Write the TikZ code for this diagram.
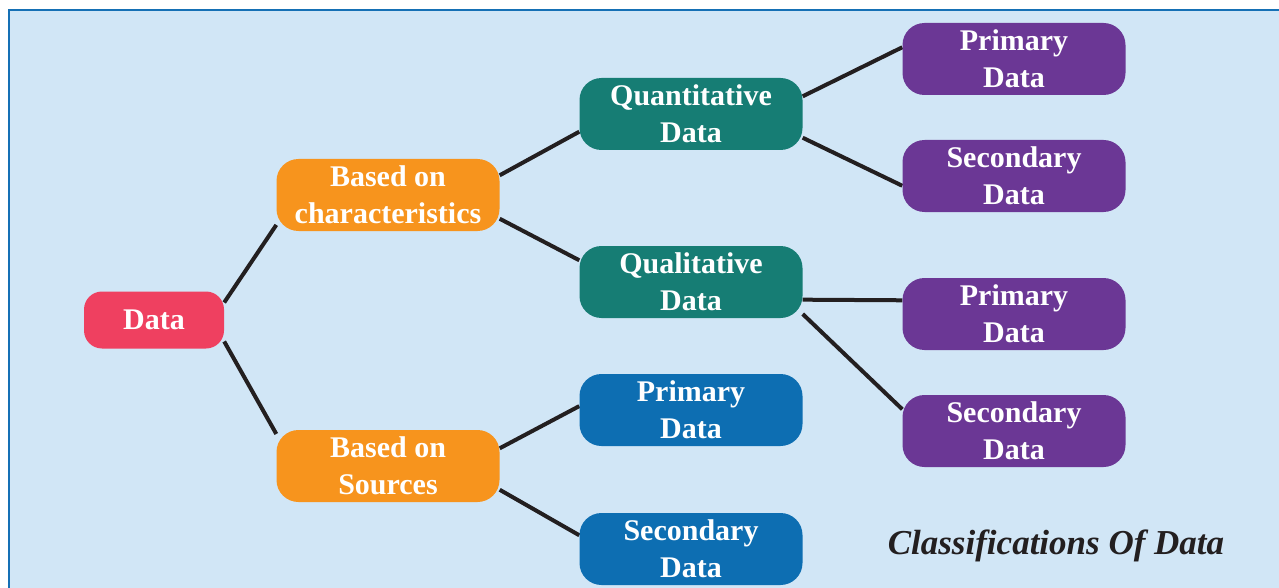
\documentclass[tikz,border=0pt]{standalone}
\usepackage{fontspec}
\setmainfont{Liberation Serif}
\usetikzlibrary{backgrounds}
\definecolor{panelblue}{HTML}{D1E6F6}
\definecolor{frameblue}{HTML}{1570B5}
\definecolor{rootred}{HTML}{EF4060}
\definecolor{basisorange}{HTML}{F7941D}
\definecolor{kindteal}{HTML}{167D74}
\definecolor{sourceblue}{HTML}{0D6EB2}
\definecolor{leafpurple}{HTML}{6B3795}
\definecolor{linkdark}{HTML}{231F20}

\begin{document}
\begin{tikzpicture}[x=1pt, y=-1pt,
    box/.style={rounded corners=22pt, minimum width=223pt, minimum height=72pt,
      inner sep=0pt, align=center, text=white,
      font=\fontsize{30}{37}\selectfont\bfseries},
    rootbox/.style={box, fill=rootred, minimum width=140pt, minimum height=57pt,
      rounded corners=18pt},
    basisbox/.style={box, fill=basisorange},
    kindbox/.style={box, fill=kindteal},
    srcbox/.style={box, fill=sourceblue},
    leafbox/.style={box, fill=leafpurple},
    link/.style={draw=linkdark, line width=4pt},
    captxt/.style={font=\fontsize{35}{40}\selectfont\bfseries\itshape, text=linkdark},
  ]
  \useasboundingbox (0,0) rectangle (1279,588);

  % tree of boxes
  \node[rootbox]  (data)  at (154,320)  {Data};
  \node[basisbox] (chars) at (388,195)  {Based on\\characteristics};
  \node[basisbox] (srcs)  at (388,466)  {Based on\\Sources};
  \node[kindbox]  (quant) at (691,114)  {Quantitative\\Data};
  \node[kindbox]  (qual)  at (691,282)  {Qualitative\\Data};
  \node[srcbox]   (sprim) at (691,410)  {Primary\\Data};
  \node[srcbox]   (ssec)  at (691,549)  {Secondary\\Data};
  \node[leafbox]  (qnprim) at (1014,59)  {Primary\\Data};
  \node[leafbox]  (qnsec)  at (1014,176) {Secondary\\Data};
  \node[leafbox]  (qlprim) at (1014,314) {Primary\\Data};
  \node[leafbox]  (qlsec)  at (1014,431) {Secondary\\Data};

  \node[captxt] (title) at (1056,546) {Classifications Of Data};

  \begin{pgfonlayer}{background}
    \fill[panelblue] (9,10) rectangle (1279,588);
    \draw[frameblue, line width=2.5pt] (9,588) -- (9,10) -- (1279,10);

    \draw[link] (data.14)   -- (chars.195);
    \draw[link] (data.343)  -- (srcs.164);
    \draw[link] (chars.10)  -- (quant.189);
    \draw[link] (chars.348) -- (qual.169);
    \draw[link] (quant.9)   -- (qnprim.174);
    \draw[link] (quant.348) -- (qnsec.185);
    \draw[link] (qual.351)  -- (qlprim.173);
    \draw[link] (qual.344)  -- (qlsec.169);
    \draw[link] (srcs.9)    -- (sprim.178);
    \draw[link] (srcs.348)  -- (ssec.173);
  \end{pgfonlayer}
\end{tikzpicture}
\end{document}
